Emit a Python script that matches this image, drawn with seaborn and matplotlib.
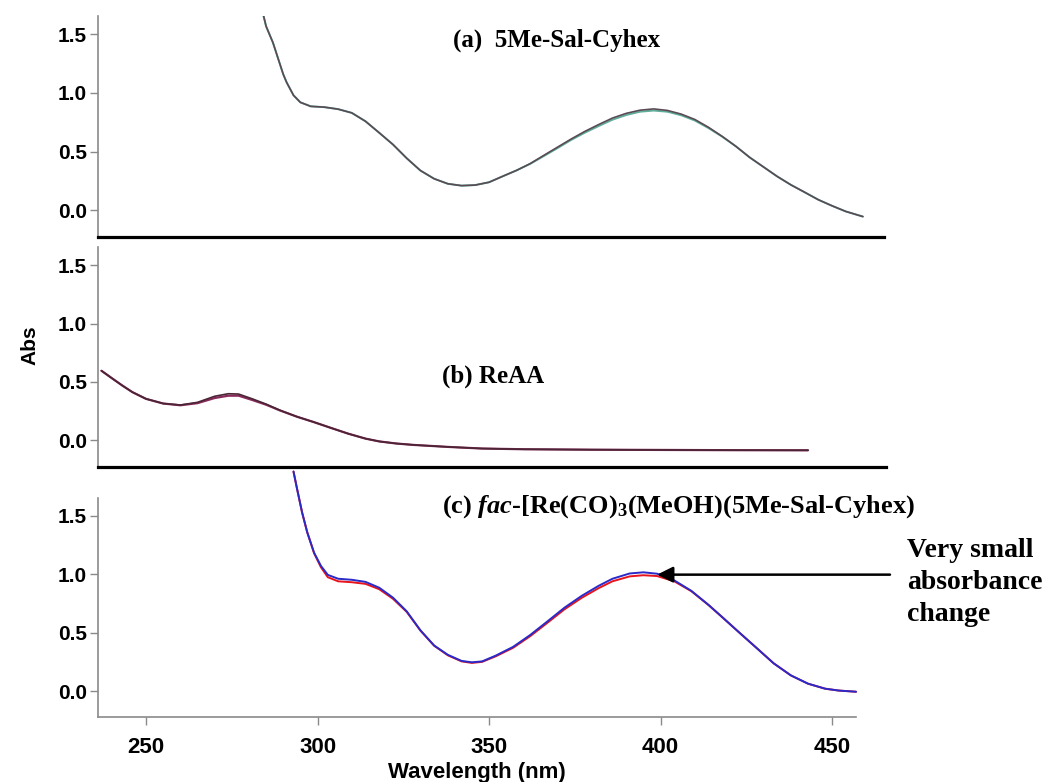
import matplotlib
matplotlib.use("Agg")
import matplotlib.pyplot as plt
import seaborn as sns
from matplotlib.ticker import FormatStrFormatter

# ---------------- spectra (wavelength in nm, absorbance) ----------------
# (a) free ligand 5Me-Sal-Cyhex
wl_a = [284, 285, 287, 288, 290, 291, 293, 295, 298, 302, 306, 310, 314, 318,
        322, 326, 330, 334, 338, 342, 346, 350, 354, 358, 362, 366, 370, 374,
        378, 382, 386, 390, 394, 398, 402, 406, 410, 414, 418, 422, 426, 430,
        434, 438, 442, 446, 450, 454, 459]
abs_a_last = [1.69, 1.57, 1.43, 1.34, 1.16, 1.09, 0.98, 0.92, 0.886, 0.879, 0.862,
              0.830, 0.758, 0.660, 0.560, 0.443, 0.338, 0.268, 0.225, 0.209, 0.214,
              0.238, 0.289, 0.339, 0.397, 0.468, 0.538, 0.608, 0.673, 0.731, 0.786,
              0.826, 0.853, 0.864, 0.851, 0.820, 0.774, 0.707, 0.629, 0.544, 0.450,
              0.369, 0.288, 0.216, 0.153, 0.089, 0.037, -0.011, -0.055]
abs_a_first = [1.69, 1.57, 1.43, 1.34, 1.16, 1.09, 0.98, 0.92, 0.886, 0.879, 0.862,
               0.830, 0.758, 0.660, 0.560, 0.443, 0.338, 0.268, 0.225, 0.209, 0.214,
               0.238, 0.289, 0.339, 0.395, 0.462, 0.530, 0.600, 0.662, 0.718, 0.772,
               0.812, 0.840, 0.850, 0.840, 0.810, 0.765, 0.700, 0.627, 0.544, 0.450,
               0.369, 0.288, 0.216, 0.153, 0.089, 0.037, -0.011, -0.055]

# (b) ReAA
wl_b = [237, 240, 243, 246, 250, 255, 260, 265, 270, 274, 277, 281, 285, 289,
        294, 299, 304, 309, 314, 318, 323, 328, 338, 348, 360, 380, 400, 420, 443]
abs_b_last = [0.596, 0.533, 0.471, 0.413, 0.355, 0.315, 0.302, 0.325, 0.377, 0.399,
              0.396, 0.355, 0.310, 0.258, 0.202, 0.155, 0.105, 0.056, 0.014, -0.010,
              -0.028, -0.040, -0.057, -0.071, -0.077, -0.081, -0.083, -0.085, -0.086]
abs_b_first = [0.596, 0.533, 0.471, 0.413, 0.355, 0.315, 0.300, 0.318, 0.362, 0.382,
               0.382, 0.345, 0.305, 0.256, 0.202, 0.155, 0.105, 0.056, 0.014, -0.010,
               -0.028, -0.040, -0.057, -0.071, -0.077, -0.081, -0.083, -0.085, -0.086]

# (c) fac-[Re(CO)3(MeOH)(5Me-Sal-Cyhex)]
wl_c = [293, 294, 295.5, 297, 299, 301, 303, 306, 310, 314, 318, 322, 326, 330,
        334, 338, 342, 345, 348, 352, 357, 362, 367, 372, 377, 382, 386, 391,
        395, 399, 404, 409, 414, 418, 423, 428, 433, 438, 443, 448, 452, 457]
abs_c_main = [1.88, 1.737, 1.53, 1.36, 1.185, 1.072, 0.995, 0.962, 0.953, 0.935,
              0.885, 0.800, 0.683, 0.520, 0.390, 0.310, 0.258, 0.246, 0.254, 0.304,
              0.378, 0.480, 0.596, 0.714, 0.815, 0.902, 0.962, 1.007, 1.017, 1.005,
              0.948, 0.858, 0.738, 0.633, 0.500, 0.369, 0.237, 0.134, 0.063, 0.020,
              0.004, -0.006]
abs_c_final = [1.88, 1.737, 1.53, 1.36, 1.180, 1.060, 0.975, 0.940, 0.932, 0.918,
               0.872, 0.790, 0.678, 0.518, 0.388, 0.306, 0.254, 0.241, 0.250, 0.298,
               0.370, 0.470, 0.584, 0.700, 0.798, 0.882, 0.940, 0.982, 0.992, 0.985,
               0.940, 0.855, 0.736, 0.632, 0.500, 0.369, 0.237, 0.134, 0.063, 0.020,
               0.004, -0.006]

yticks = [0.0, 0.5, 1.0, 1.5]
xticks = [250, 300, 350, 400, 450]

label_a = "(a)  5Me-Sal-Cyhex"
label_b = "(b) ReAA"
label_c = r"(c) $\mathit{fac}$-[Re(CO)$_{3}$(MeOH)(5Me-Sal-Cyhex)"
note = "Very small\nabsorbance\nchange"

# ---------------- styling ----------------
sns.set_theme(style="white")
plt.rcParams["font.family"] = ["Liberation Sans", "DejaVu Sans"]
plt.rcParams["font.weight"] = "bold"
plt.rcParams["text.color"] = "black"
plt.rcParams["axes.labelcolor"] = "black"
plt.rcParams["mathtext.fontset"] = "custom"
plt.rcParams["mathtext.rm"] = "Liberation Serif:bold"
plt.rcParams["mathtext.it"] = "Liberation Serif:italic:bold"
plt.rcParams["mathtext.bf"] = "Liberation Serif:bold"

W, H = 1053, 782
fig = plt.figure(figsize=(W / 100, H / 100), dpi=100)
fig.patch.set_facecolor("white")


def add_axes_px(left, top, right, bottom):
    return fig.add_axes([left / W, 1 - bottom / H, (right - left) / W, (bottom - top) / H])


ax_a = add_axes_px(98, 16, 884, 236.5)
ax_b = add_axes_px(98, 247, 886, 466.5)
ax_c = add_axes_px(98, 497.6, 856, 717.3)

PX_PER_NM = 3.43
YLIM = (-0.225, 1.657)
GRAY = "#8a8a8a"

for ax, right in ((ax_a, 884), (ax_b, 886), (ax_c, 856)):
    ax.set_facecolor("none")
    ax.set_xlim(236, 236 + (right - 98) / PX_PER_NM)
    ax.set_ylim(*YLIM)
    ax.set_yticks(yticks)
    ax.yaxis.set_major_formatter(FormatStrFormatter("%.1f"))
    ax.tick_params(axis="y", direction="out", length=6, width=1.0, color=GRAY,
                   labelsize=15, pad=2, left=True, labelcolor="black")
    for s in ("top", "right"):
        ax.spines[s].set_visible(False)
    ax.spines["left"].set_color(GRAY)
    ax.spines["left"].set_linewidth(1.2)
    ax.set_xlabel("")
    ax.set_ylabel("")

for ax in (ax_a, ax_b):
    ax.spines["bottom"].set_color("black")
    ax.spines["bottom"].set_linewidth(2.3)
    ax.set_xticks([])

ax_c.set_xticks(xticks)
ax_c.spines["bottom"].set_color(GRAY)
ax_c.spines["bottom"].set_linewidth(1.2)
ax_c.tick_params(axis="x", direction="out", length=6, width=1.0, color=GRAY,
                 labelsize=16, pad=8, bottom=True, labelcolor="black")

# ---------------- spectra ----------------
sns.lineplot(x=wl_a, y=abs_a_first, ax=ax_a, color="#5fae9a", lw=1.4, legend=False)
sns.lineplot(x=wl_a, y=abs_a_last, ax=ax_a, color="#5a4a55", lw=1.2, legend=False)

sns.lineplot(x=wl_b, y=abs_b_first, ax=ax_b, color="#8a2a5a", lw=1.6, legend=False)
sns.lineplot(x=wl_b, y=abs_b_last, ax=ax_b, color="#4a2535", lw=1.2, legend=False)

sns.lineplot(x=wl_c, y=abs_c_final, ax=ax_c, color="#e8141c", lw=1.4, legend=False)
sns.lineplot(x=wl_c, y=abs_c_main, ax=ax_c, color="#2a2ac8", lw=1.4, legend=False)
for line in ax_c.get_lines():
    line.set_clip_on(False)

ax_c.set_xlabel("Wavelength (nm)", fontsize=16, fontweight="bold", labelpad=3,
                color="black")

# ---------------- annotations ----------------
serif = ["Liberation Serif", "DejaVu Serif"]
fig.text(557 / W, 1 - 40 / H, label_a, ha="center", va="center",
         fontsize=18, fontweight="bold", family=serif, color="black")
fig.text(442 / W, 1 - 376 / H, label_b, ha="left", va="center",
         fontsize=18, fontweight="bold", family=serif, color="black")
fig.text(442 / W, 1 - 507 / H, label_c, ha="left", va="center",
         fontsize=19, fontweight="bold", family=serif, color="black")
fig.text(907 / W, 1 - 538 / H, note, ha="left", va="top", fontsize=20,
         fontweight="bold", family=serif, linespacing=1.38, color="black")

fig.text(30 / W, 1 - 345 / H, "Abs", rotation=90, ha="center", va="center",
         fontsize=15, fontweight="bold", color="black")

# arrow pointing at the long-wavelength band maximum of (c)
band = [i for i, w in enumerate(wl_c) if w > 350]
peak_idx = max(band, key=lambda i: abs_c_main[i])
ax_c.annotate("", xy=(wl_c[peak_idx] + 4, abs_c_main[peak_idx] - 0.02),
              xytext=(236 + (890 - 98) / PX_PER_NM, abs_c_main[peak_idx] - 0.02),
              arrowprops=dict(arrowstyle="-|>", color="black", lw=1.8,
                              mutation_scale=24, shrinkA=0, shrinkB=0),
              annotation_clip=False)

fig.savefig("out.png", dpi=100, facecolor="white")
